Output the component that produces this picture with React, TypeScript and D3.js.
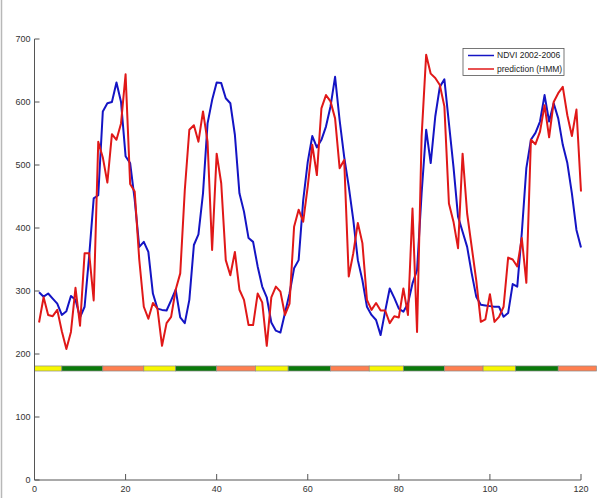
import React from 'react';
import * as d3 from 'd3';

// NDVI 2002-2006 (blue), one value per step 1..120
const ndvi = [
  298, 291, 296, 288, 280, 262, 268, 292, 286, 258,
  275, 355, 447, 452, 585, 598, 600, 631, 600, 514,
  503, 445, 370, 378, 362, 296, 272, 270, 269, 285,
  302, 258, 249, 286, 373, 390, 455, 566, 603, 631,
  630, 606, 598, 548, 455, 426, 384, 378, 339, 307,
  290, 250, 237, 234, 265, 296, 336, 349, 444, 505,
  546, 528, 540, 561, 593, 640, 571, 513, 466, 413,
  349, 317, 275, 262, 254, 230, 268, 304, 289, 272,
  267, 280, 312, 333, 455, 556, 503, 577, 624, 636,
  566, 497, 418, 394, 370, 328, 291, 278, 277, 276,
  275, 275, 259, 265, 311, 307, 392, 495, 540, 551,
  569, 611, 569, 598, 574, 532, 503, 455, 397, 369,
];

// prediction (HMM) (red)
const prediction = [
  250, 290, 262, 260, 270, 236, 208, 235, 305, 245,
  360, 360, 285, 537, 512, 472, 549, 540, 566, 644,
  470, 458, 350, 275, 256, 281, 272, 213, 249, 259,
  302, 328, 460, 556, 563, 537, 585, 537, 365, 518,
  471, 349, 325, 362, 302, 286, 246, 246, 296, 282,
  213, 290, 307, 299, 262, 280, 402, 429, 410, 466,
  532, 484, 590, 611, 601, 574, 495, 508, 323, 360,
  408, 376, 286, 270, 281, 269, 269, 249, 260, 258,
  304, 262, 431, 235, 545, 675, 645, 638, 627, 593,
  439, 410, 368, 518, 423, 370, 317, 251, 255, 295,
  251, 259, 275, 353, 350, 339, 384, 313, 540, 533,
  553, 595, 544, 600, 614, 624, 579, 546, 588, 458,
];

// season band under the curves
const bandEdges = [0, 6, 15, 24, 31, 40, 48.5, 55.7, 65, 73.5, 81, 90, 98.5, 105.6, 115, 123.4];
const bandColors = ['#f7f700', '#0a7a0a', '#ff7f4f'];
const bandLow = 173;
const bandHigh = 181;

const xTicks = [0, 20, 40, 60, 80, 100, 120];
const yTicks = [0, 100, 200, 300, 400, 500, 600, 700];

const seriesNames = ['NDVI 2002-2006', 'prediction (HMM)'];
const seriesColors = ['#1414c4', '#e01818'];

export default function App() {
  const width = 600;
  const height = 498;

  const x = d3.scaleLinear().domain([0, 120]).range([34.5, 581]);
  const y = d3.scaleLinear().domain([0, 700]).range([480, 39]);

  const line = d3
    .line<number>()
    .x((d, i) => x(i + 1))
    .y((d) => y(d));

  const font = 'Liberation Sans, Arial, sans-serif';

  return (
    <svg
      width={width}
      height={height}
      style={{ position: 'absolute', left: 0, top: 0, background: '#fff' }}
    >
      {/* figure frame edge */}
      <line x1={1.5} x2={1.5} y1={0} y2={height} stroke="#b8b8b8" strokeWidth={1.5} />

      {/* season band */}
      {bandEdges.slice(0, -1).map((e, i) => (
        <rect
          key={i}
          x={x(e)}
          y={y(bandHigh)}
          width={x(bandEdges[i + 1]) - x(e)}
          height={y(bandLow) - y(bandHigh)}
          fill={bandColors[i % 3]}
          stroke="#8a8a8a"
          strokeWidth={0.7}
        />
      ))}

      {/* data lines */}
      <path d={line(ndvi) || ''} fill="none" stroke={seriesColors[0]} strokeWidth={2} strokeLinejoin="round" />
      <path d={line(prediction) || ''} fill="none" stroke={seriesColors[1]} strokeWidth={2} strokeLinejoin="round" />

      {/* axes */}
      <line x1={x(0)} x2={x(0)} y1={y(0)} y2={y(700)} stroke="#555" strokeWidth={1} />
      <line x1={x(0)} x2={x(120)} y1={y(0)} y2={y(0)} stroke="#555" strokeWidth={1} />
      {yTicks.map((t) => (
        <g key={'y' + t}>
          <line x1={x(0)} x2={x(0) + 5} y1={y(t)} y2={y(t)} stroke="#555" />
          <text
            x={x(0) - 4}
            y={y(t)}
            dy="0.35em"
            textAnchor="end"
            fontFamily={font}
            fontSize={9}
            fill="#333"
          >
            {t}
          </text>
        </g>
      ))}
      {xTicks.map((t) => (
        <g key={'x' + t}>
          <line x1={x(t)} x2={x(t)} y1={y(0)} y2={y(0) - 6} stroke="#555" />
          <text
            x={x(t)}
            y={y(0) + 12}
            textAnchor="middle"
            fontFamily={font}
            fontSize={9}
            fill="#333"
          >
            {t}
          </text>
        </g>
      ))}

      {/* legend */}
      <rect x={463} y={48.5} width={101} height={27} fill="#fff" stroke="#555" strokeWidth={0.8} />
      {seriesNames.map((n, i) => (
        <g key={n}>
          <line x1={468} x2={494} y1={55.5 + i * 13.5} y2={55.5 + i * 13.5} stroke={seriesColors[i]} strokeWidth={1.5} />
          <text x={497} y={55.5 + i * 13.5} dy="0.35em" fontFamily={font} fontSize={8.5} fill="#222">
            {n}
          </text>
        </g>
      ))}
    </svg>
  );
}
